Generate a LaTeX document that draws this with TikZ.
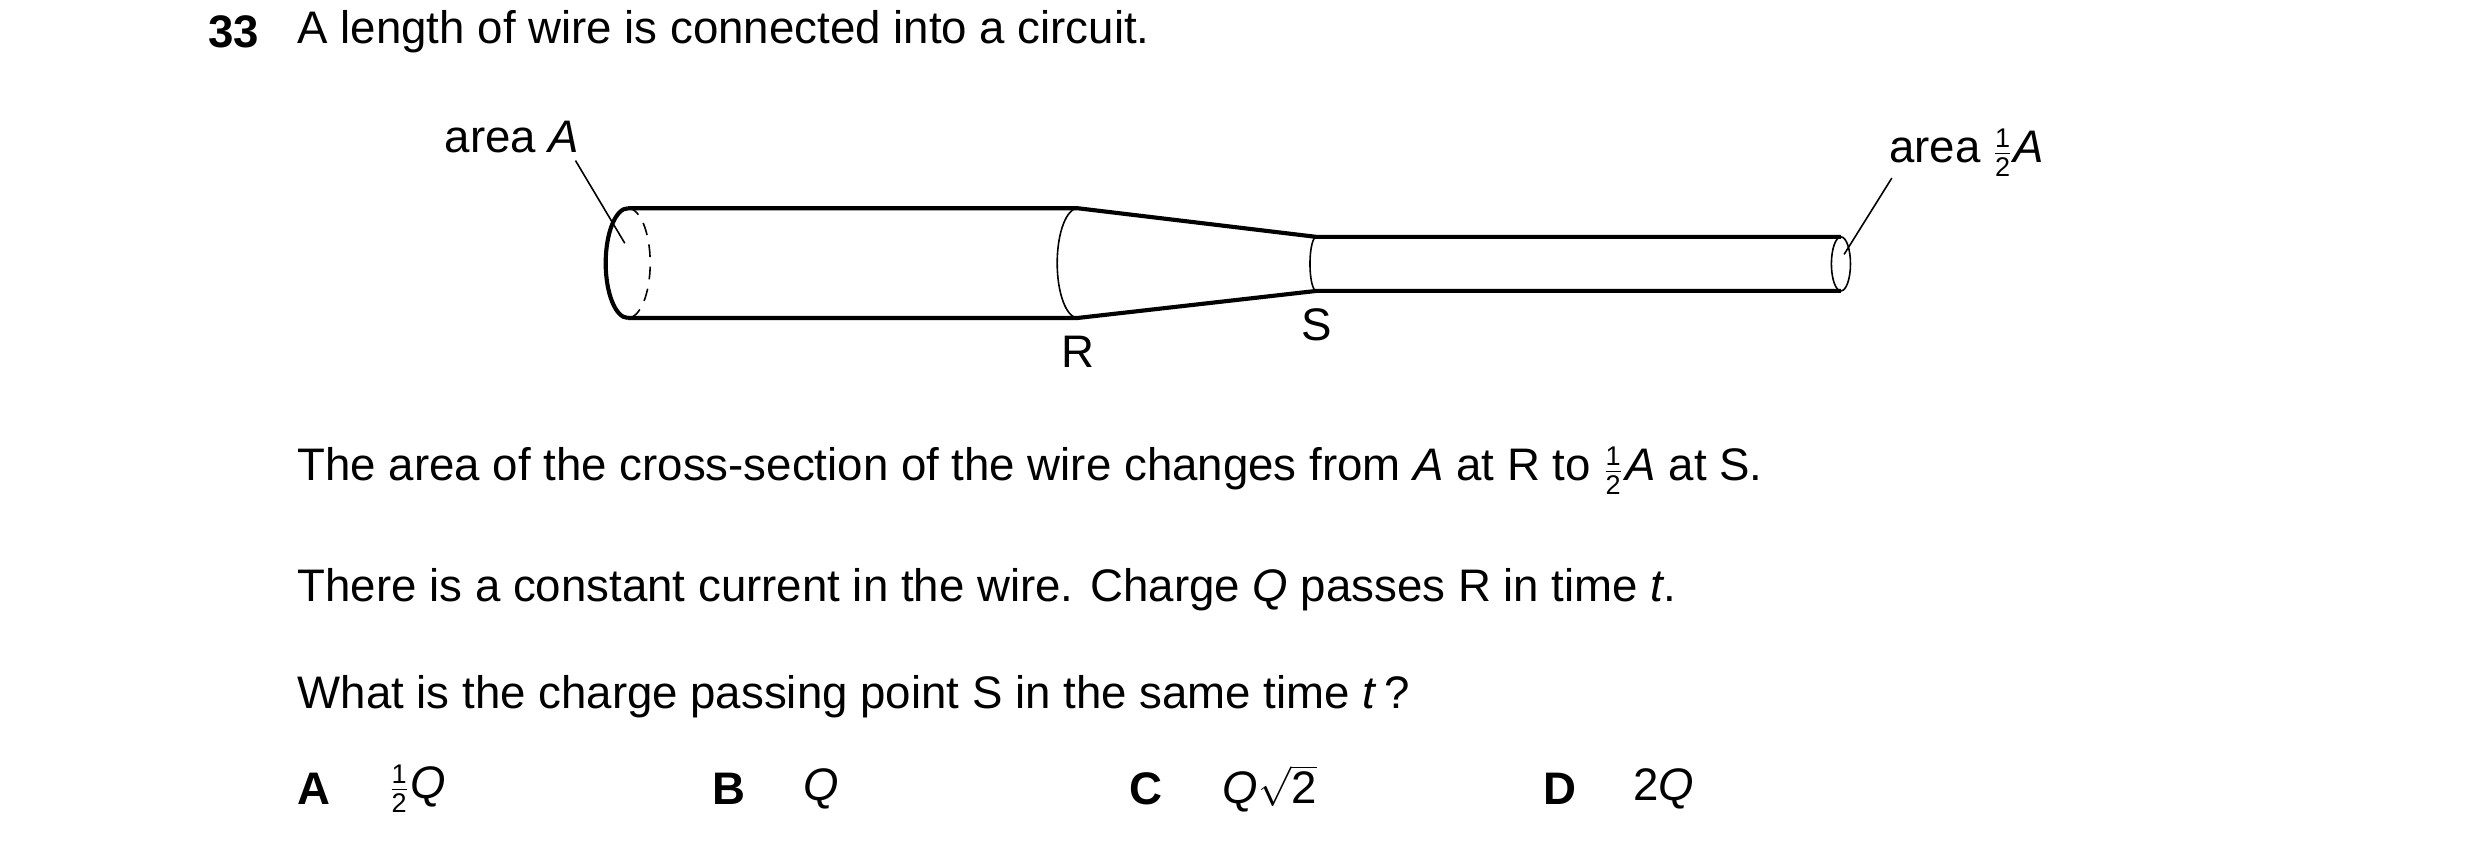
\documentclass[tikz,border=0pt]{standalone}
\usepackage{fontspec}
\setmainfont{Liberation Sans}
\newcommand{\hfr}{\ensuremath{\frac{\mbox{\fontsize{17}{17}\selectfont 1}}{\mbox{\fontsize{17}{17}\selectfont 2}}}}
\begin{document}
\begin{tikzpicture}[x=1pt,y=-1pt,
  thk/.style={line width=2.6pt},
  thn/.style={line width=1pt},
  txt/.style={inner sep=0pt,font=\fontsize{28.7}{32}\selectfont},
  lead/.style={line width=1pt}]
\useasboundingbox (0,0) rectangle (1560,538);
% wire
\draw[thk] (395,131) -- (678,131) -- (828,149) -- (1158,149);
\draw[thk] (395,200) -- (678,200) -- (828,183) -- (1158,183);
\draw[thk] (395,131) arc[start angle=270,end angle=90,x radius=14,y radius=34.5];
\draw[thn,dash pattern=on 8pt off 6pt] (395,131) arc[start angle=270,end angle=450,x radius=14,y radius=34.5];
\draw[thn] (678,131) arc[start angle=270,end angle=90,x radius=13,y radius=34.5];
\draw[thn] (828,149) arc[start angle=270,end angle=90,x radius=4,y radius=17];
\draw[thn] (1158,166) ellipse[x radius=6,y radius=17];
% labels
\node[txt] (aA) at (322,86) {area \textit{A}};
\node[txt] (aH) at (1237,96) {area \hfr\kern1pt\textit{A}};
\coordinate (pA) at (393,153);
\coordinate (pH) at (1160,160);
\draw[lead] (362,101) -- (pA);
\draw[lead] (1190,112) -- (pH);
\node[txt] (R) at (678,221) {R};
\node[txt] (S) at (828,204) {S};
% text
\node[txt,anchor=west] (q) at (131,20) {\textbf{33}};
\node[txt,anchor=west] (t1) at (187,20) {A length of wire is connected into a circuit.};
\node[txt,anchor=west] (t2) at (187,296) {The area of the cross-section of the wire changes from \textit{A} at R to \hfr\kern2pt\textit{A} at S.};
\node[txt,anchor=west] (t3) at (187,371) {There is a constant current in the wire. Charge \textit{Q} passes R in time \textit{t}.};
\node[txt,anchor=west] (t4) at (187,438) {What is the charge passing point S in the same time \textit{t}\,?};
\node[txt,anchor=west] (oA) at (187,496) {\textbf{A}};
\node[txt,anchor=west] (vA) at (245,496) {\hfr\kern1pt\textit{Q}};
\node[txt,anchor=west] (oB) at (448,496) {\textbf{B}};
\node[txt,anchor=west] (vB) at (505,496) {\textit{Q}};
\node[txt,anchor=west] (oC) at (710,496) {\textbf{C}};
\node[txt,anchor=west] (vC) at (769,496) {\textit{Q}$\sqrt{\mbox{2}}$};
\node[txt,anchor=west] (oD) at (971,496) {\textbf{D}};
\node[txt,anchor=west] (vD) at (1027,496) {2\textit{Q}};
\end{tikzpicture}
\end{document}
